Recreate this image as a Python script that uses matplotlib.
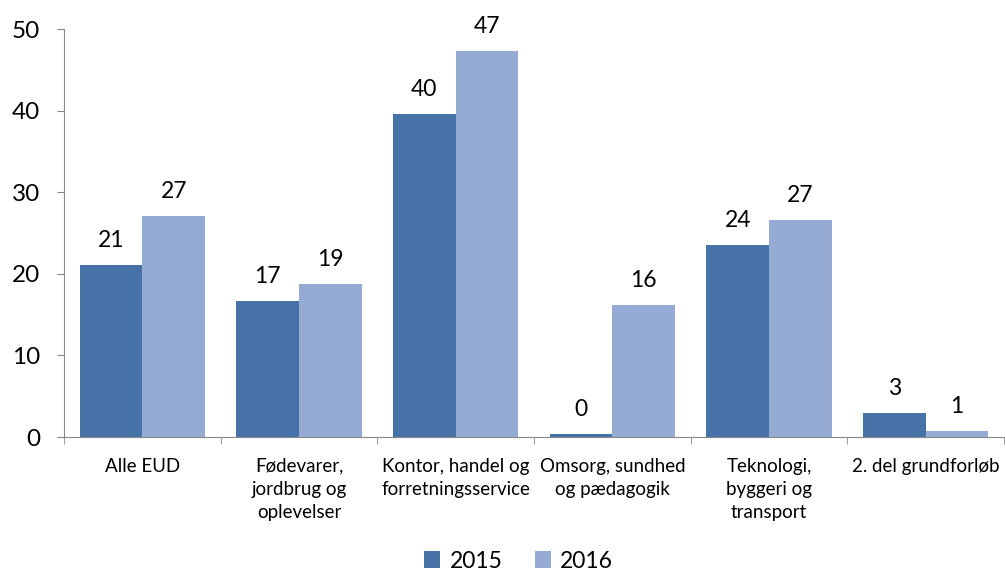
import matplotlib
matplotlib.use("Agg")
import matplotlib.pyplot as plt
import numpy as np

categories = ["Alle EUD", "Fødevarer,\njordbrug og\noplevelser", "Kontor, handel og\nforretningsservice",
              "Omsorg, sundhed\nog pædagogik", "Teknologi,\nbyggeri og\ntransport", "2. del grundforløb"]
v2015 = [21.1, 16.7, 39.6, 0.4, 23.5, 2.9]
v2016 = [27.1, 18.8, 47.3, 16.2, 26.6, 0.7]
lab2015 = ["21", "17", "40", "0", "24", "3"]
lab2016 = ["27", "19", "47", "16", "27", "1"]
series = ["2015", "2016"]
colors = ["#4672A8", "#95ABD3"]

plt.rcParams['font.family'] = ['Lato', 'DejaVu Sans']

fig = plt.figure(figsize=(10.05, 5.72), dpi=100)
ax = fig.add_axes([64/1005, (572-437)/572, (1004-64)/1005, (437-29)/572])

x = np.arange(len(categories))
w = 0.4
b1 = ax.bar(x - w/2, v2015, w, color=colors[0], label=series[0])
b2 = ax.bar(x + w/2, v2016, w, color=colors[1], label=series[1])

for bars, labs in ((b1, lab2015), (b2, lab2016)):
    for r, l in zip(bars, labs):
        ax.annotate(l, (r.get_x() + r.get_width()/2, r.get_height()), xytext=(0, 10),
                    textcoords="offset points", ha="center", va="bottom", fontsize=16.5, color="#000000")

ax.set_xlim(-0.5, 5.5)
ax.set_ylim(0, 50)
ax.set_yticks(range(0, 51, 10))
ax.tick_params(axis='y', labelsize=17.5, length=5, color="#888888", pad=12)
ax.set_xticks(x)
ax.set_xticklabels(categories, fontsize=13.5, linespacing=1.45)
ax.tick_params(axis='x', which='major', length=0, pad=15)
ax.set_xticks(np.arange(-0.5, 6, 1), minor=True)
ax.tick_params(axis='x', which='minor', length=5, color="#888888")
for s in ("top", "right"):
    ax.spines[s].set_visible(False)
for s in ("left", "bottom"):
    ax.spines[s].set_color("#888888")

leg = fig.legend(handles=[b1, b2], labels=series, loc="center", bbox_to_anchor=(0.516, (572-561)/572),
                 ncol=2, frameon=False, fontsize=16.5, handlelength=0.7, handleheight=0.7,
                 handletextpad=0.4, columnspacing=1.4)

fig.savefig("out.png", dpi=100)
